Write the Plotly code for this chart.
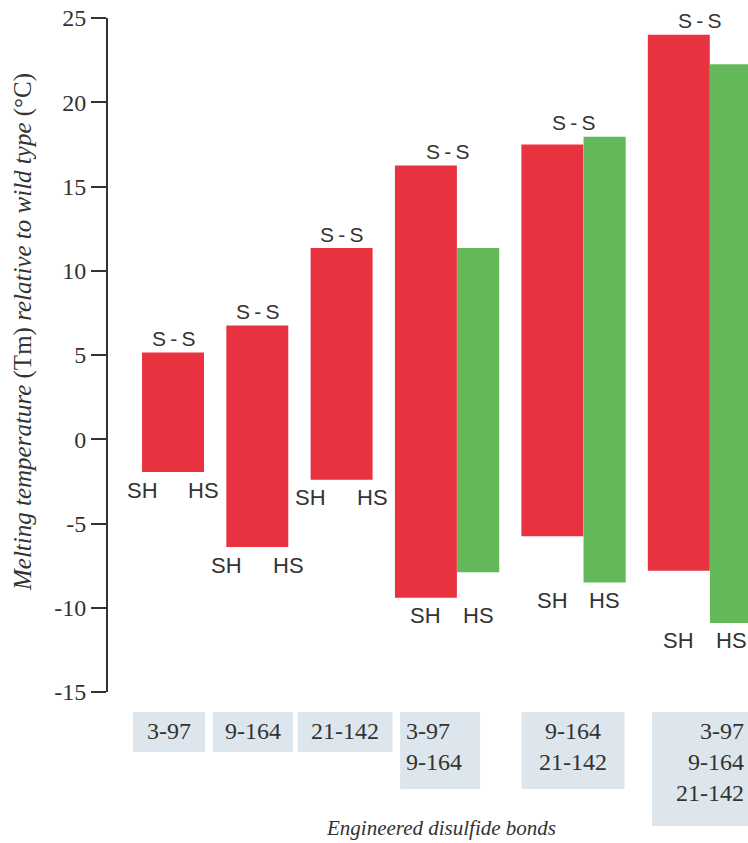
import plotly.graph_objects as go

# ---------------- data ----------------
categories = ["3-97", "9-164", "21-142", "3-97<br>9-164", "9-164<br>21-142", "3-97<br>9-164<br>21-142"]
red_top = [5.15, 6.75, 11.35, 16.25, 17.5, 24.0]
red_bottom = [-1.95, -6.4, -2.4, -9.4, -5.75, -7.8]
green_top = [None, None, None, 11.35, 17.95, 22.25]
green_bottom = [None, None, None, -7.9, -8.5, -10.9]
y_ticks = [-15, -10, -5, 0, 5, 10, 15, 20, 25]

# ---------------- style / layout ----------------
RED = "#e8323f"
GREEN = "#63b95a"
BOX = "#dce6ec"
TXT = "#333333"
SERIF = "Liberation Serif, Times New Roman, serif"
SANS = "Liberation Sans, Arial, sans-serif"

W, H = 748, 843
ML, MR, MT, MB = 108, 0, 18, 151
PW, PH = W - ML - MR, H - MT - MB
PX = 1 / 84.3                       # data units per pixel on x
group_pos = [0, 1, 2, 3, 4.5, 6]    # red-bar centres
red_w = 0.735
green_off = 0.62
green_w = 0.5
x_range = [-(173 - 108) * PX, (748 - 173) * PX]

# box extents relative to group centre (px) and text alignment
box_l = [-40, -44.5, -44, -47, -52, -48]
box_r = [32, 35.5, 51, 33, 51, 60]
box_align = ["center", "center", "center", "left", "center", "right"]
SS = "S\u2009-\u2009S"


def py(pix):
    """pixel row -> paper y"""
    return (H - MB - pix) / PH


fig = go.Figure()

rx = [group_pos[i] for i in range(len(categories))]
fig.add_trace(go.Bar(
    x=rx, base=red_bottom, y=[t - b for t, b in zip(red_top, red_bottom)],
    width=red_w, marker=dict(color=RED, line=dict(width=0)), hoverinfo="skip",
))
gi = [i for i in range(len(categories)) if green_top[i] is not None]
fig.add_trace(go.Bar(
    x=[group_pos[i] + green_off for i in gi],
    base=[green_bottom[i] for i in gi],
    y=[green_top[i] - green_bottom[i] for i in gi],
    width=green_w, marker=dict(color=GREEN, line=dict(width=0)), hoverinfo="skip",
))

ann = []
shapes = []
for i, cat in enumerate(categories):
    c = group_pos[i]
    has_g = green_top[i] is not None
    if has_g:
        gc = (c - red_w / 2 + c + green_off + green_w / 2) / 2
        top = max(red_top[i], green_top[i])
        bot = min(red_bottom[i], green_bottom[i])
        sh_x, hs_x = c, c + green_off
    else:
        gc = c
        top, bot = red_top[i], red_bottom[i]
        sh_x, hs_x = c - red_w / 2, c + red_w / 2
    ann.append(dict(x=gc, y=top, xref="x", yref="y", text=SS, showarrow=False,
                    yanchor="middle", yshift=14, font=dict(family=SANS, size=21, color=TXT)))
    ann.append(dict(x=sh_x, y=bot, xref="x", yref="y", text="SH", showarrow=False,
                    yanchor="middle", yshift=-18, font=dict(family=SANS, size=22, color=TXT)))
    ann.append(dict(x=hs_x, y=bot, xref="x", yref="y", text="HS", showarrow=False,
                    yanchor="middle", yshift=-18, font=dict(family=SANS, size=22, color=TXT)))

    # category box
    n_lines = cat.count("<br>") + 1
    x0 = gc + box_l[i] * PX
    x1 = gc + box_r[i] * PX
    shapes.append(dict(type="rect", xref="x", yref="paper", x0=x0, x1=x1,
                       y0=py(752 + 37 * (n_lines - 1)), y1=py(712),
                       fillcolor=BOX, line=dict(width=0), layer="below"))
    if box_align[i] == "left":
        tx, xa = x0 + 4 * PX, "left"
    elif box_align[i] == "right":
        tx, xa = min(x1, x_range[1]) - 2 * PX, "right"
    else:
        tx, xa = (x0 + x1) / 2, "center"
    ann.append(dict(x=tx, y=py(716), xref="x", yref="paper", text=cat, showarrow=False,
                    xanchor=xa, yanchor="top", align=box_align[i],
                    font=dict(family=SERIF, size=24, color=TXT)))

# axis titles
ann.append(dict(x=(23 - ML) / PW, y=py(332), xref="paper", yref="paper",
                text="<i>Melting temperature</i> (Tm) <i>relative to wild type</i> (°C)",
                textangle=-90, showarrow=False, xanchor="center", yanchor="middle",
                font=dict(family=SERIF, size=25, color=TXT)))
ann.append(dict(x=(441 - ML) / PW, y=py(828), xref="paper", yref="paper",
                text="<i>Engineered disulfide bonds</i>", showarrow=False,
                xanchor="center", yanchor="middle",
                font=dict(family=SERIF, size=21, color=TXT)))

fig.update_layout(
    width=W, height=H,
    margin=dict(l=ML, r=MR, t=MT, b=MB),
    paper_bgcolor="white", plot_bgcolor="white",
    barmode="overlay", showlegend=False,
    annotations=ann, shapes=shapes,
    xaxis=dict(range=x_range, visible=False, fixedrange=True),
    yaxis=dict(range=[-15, 25], tickvals=y_ticks, ticktext=[str(v) for v in y_ticks],
               showgrid=False, zeroline=False, showline=True, linecolor=TXT, linewidth=2,
               ticks="outside", ticklen=15, tickwidth=2, tickcolor=TXT,
               tickfont=dict(family=SERIF, size=24, color=TXT), fixedrange=True),
)

fig.write_html("out.html", config={"displayModeBar": False},
               post_script="document.body.style.margin='0px';document.body.style.overflow='hidden';")
